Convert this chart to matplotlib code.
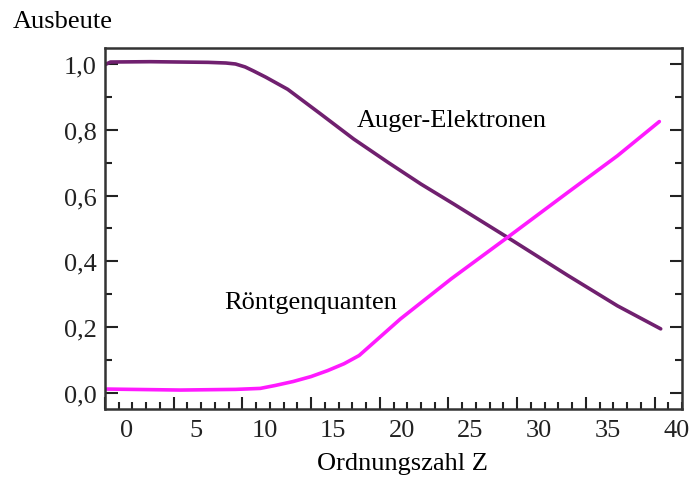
import numpy as np
import matplotlib.pyplot as plt
import matplotlib.transforms as mtransforms
from matplotlib.ticker import MultipleLocator

plt.rcParams['font.family'] = ['Liberation Serif', 'DejaVu Serif']

# Auger-Elektronen (dunkel-violett)
z_auger = [0.0, 0.4, 3.3, 7.5, 8.8, 9.5, 10.2, 10.8, 11.7, 13.3, 15.7, 18.1,
           20.6, 23.0, 25.4, 29.3, 33.7, 37.3, 40.45]
y_auger = [0.998, 1.006, 1.007, 1.005, 1.003, 1.0, 0.991, 0.979, 0.960, 0.923,
           0.848, 0.772, 0.701, 0.635, 0.574, 0.473, 0.357, 0.265, 0.195]

# Röntgenquanten (magenta)
z_xray = [0.15, 5.5, 9.5, 11.3, 12.4, 13.7, 15.0, 16.2, 17.4, 18.5, 21.5,
          25.2, 29.3, 33.7, 37.3, 40.35]
y_xray = [0.012, 0.009, 0.011, 0.014, 0.023, 0.035, 0.050, 0.068, 0.089, 0.114,
          0.225, 0.347, 0.473, 0.610, 0.721, 0.825]

x_ticks = [0, 5, 10, 15, 20, 25, 30, 35, 40]
y_ticks = [0.0, 0.2, 0.4, 0.6, 0.8, 1.0]
y_labels = ['0,0', '0,2', '0,4', '0,6', '0,8', '1,0']

fig = plt.figure(figsize=(6.89, 4.81), dpi=100)
ax = fig.add_axes([105 / 689, 1 - 410 / 481, 577 / 689, 361 / 481])

ax.plot(z_auger, y_auger, color='#70206f', lw=2.6, solid_capstyle='round',
        solid_joinstyle='round')
ax.plot(z_xray, y_xray, color='#ff1aff', lw=2.6, solid_capstyle='round',
        solid_joinstyle='round')

ax.set_xlim(0, 42)
ax.set_ylim(-0.0486, 1.0486)

ax.set_xticks(x_ticks)
ax.set_xticklabels([str(v) for v in x_ticks])
ax.xaxis.set_minor_locator(MultipleLocator(1))
ax.set_yticks(y_ticks)
ax.set_yticklabels(y_labels)
ax.yaxis.set_minor_locator(MultipleLocator(0.1))

ax.tick_params(axis='both', which='both', direction='in', labelsize=19,
               top=False, right=True, colors='#222222')
ax.tick_params(axis='both', which='major', length=9, width=1.5)
ax.tick_params(axis='both', which='minor', length=5, width=1.5)
ax.tick_params(axis='y', pad=6)
ax.tick_params(axis='x', pad=7)

# tick labels sit a little right of their tick marks in the original
shift = mtransforms.ScaledTranslation(22 / 100, 0, fig.dpi_scale_trans)
for lab in ax.xaxis.get_majorticklabels():
    lab.set_transform(lab.get_transform() + shift)

for sp in ax.spines.values():
    sp.set_linewidth(1.8)
    sp.set_color('#333333')

ax.set_xlabel('Ordnungszahl Z', fontsize=19)
ax.xaxis.set_label_coords(0.5156, -0.118)
fig.text(12.7 / 689, 1 - 28.3 / 481, 'Ausbeute', fontsize=19, va='baseline', ha='left')

ax.text(25.27, 0.812, 'Auger-Elektronen', fontsize=19, ha='center', va='baseline')
ax.text(14.96, 0.258, 'Röntgenquanten', fontsize=19, ha='center', va='baseline')

fig.savefig('out.png', dpi=100)
plt.close(fig)
